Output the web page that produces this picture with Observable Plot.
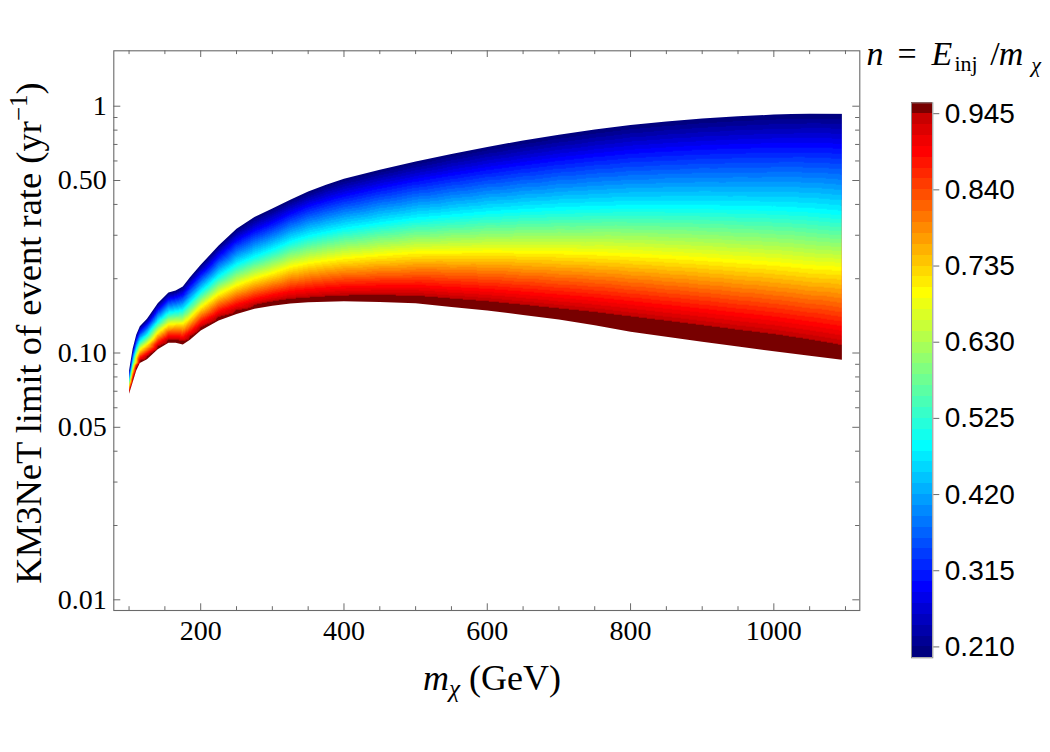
<!DOCTYPE html>
<html>
<head>
<meta charset="utf-8">
<script src="https://cdn.jsdelivr.net/npm/d3@7"></script>
<script src="https://cdn.jsdelivr.net/npm/@observablehq/plot@0.6"></script>
<style>
  body { margin: 0; background: #fff; }
  #wrap { position: relative; width: 1050px; height: 752px; overflow: hidden; background: #fff; }
  #wrap svg { position: absolute; top: 0; }
</style>
</head>
<body>
<div id="wrap"></div>
<script>
// ---------- data ----------
// dark matter mass m_chi (GeV), sample columns
const mass = [100, 105, 110, 115, 125, 140, 155, 165, 175, 185, 200, 225, 250, 275, 300, 325, 350, 375, 400, 450, 500, 550, 600, 650, 700, 750, 800, 850, 900, 950, 1000, 1050, 1095];
// event-rate limit (yr^-1) along several n = E_inj/m_chi levels
const levelN = [0.195, 0.2925, 0.4875, 0.6975, 0.8925, 0.945, 0.96];
const rateTop    = [0.0849, 0.1040, 0.1185, 0.1284, 0.1376, 0.1592, 0.1759, 0.1792, 0.1859, 0.2028, 0.2277, 0.2726, 0.3185, 0.356, 0.385, 0.418, 0.451, 0.481, 0.508, 0.553, 0.597, 0.641, 0.684, 0.726, 0.766, 0.805, 0.840, 0.867, 0.891, 0.910, 0.925, 0.934, 0.932];
const rateBlue   = [0.0825, 0.0998, 0.1134, 0.1228, 0.1310, 0.1505, 0.1655, 0.1681, 0.1731, 0.1877, 0.2099, 0.2484, 0.2860, 0.314, 0.3377, 0.3680, 0.395, 0.4160, 0.4360, 0.4700, 0.5020, 0.5310, 0.5600, 0.5860, 0.612, 0.634, 0.6550, 0.6690, 0.6810, 0.6890, 0.6950, 0.6970, 0.6894];
const rateCyan   = [0.0778, 0.0917, 0.1037, 0.1119, 0.1184, 0.1339, 0.1457, 0.1473, 0.1495, 0.1600, 0.1774, 0.2049, 0.2286, 0.246, 0.2624, 0.2823, 0.2977, 0.3083, 0.3189, 0.3351, 0.3499, 0.3597, 0.3704, 0.3775, 0.384, 0.388, 0.3907, 0.3906, 0.3901, 0.3871, 0.3846, 0.3785, 0.3688];
const rateYellow = [0.0739, 0.0852, 0.0960, 0.1033, 0.1085, 0.1211, 0.1307, 0.1315, 0.1317, 0.1394, 0.1535, 0.1737, 0.1885, 0.201, 0.2111, 0.2238, 0.2317, 0.2374, 0.2428, 0.2500, 0.2557, 0.2567, 0.2580, 0.2571, 0.2557, 0.2534, 0.2498, 0.2455, 0.2409, 0.2353, 0.2304, 0.2234, 0.220];
const rateRed    = [0.0703, 0.0792, 0.0888, 0.0954, 0.0994, 0.1096, 0.1171, 0.1173, 0.1160, 0.1214, 0.1328, 0.1471, 0.1570, 0.165, 0.1715, 0.1774, 0.1805, 0.1830, 0.1851, 0.1865, 0.1869, 0.1832, 0.1798, 0.1751, 0.1702, 0.1655, 0.1598, 0.1542, 0.1487, 0.1431, 0.1380, 0.1318, 0.126];
const rate945    = [0.0693, 0.0776, 0.0869, 0.0933, 0.0970, 0.1065, 0.1136, 0.1136, 0.1119, 0.1168, 0.1275, 0.1405, 0.1495, 0.1570, 0.1622, 0.1662, 0.1682, 0.1701, 0.1715, 0.1718, 0.1712, 0.1666, 0.1624, 0.1572, 0.1519, 0.1469, 0.141, 0.1354, 0.130, 0.1245, 0.1196, 0.1137, 0.108];
const rateBottom = [0.0683, 0.0762, 0.0849, 0.0912, 0.0944, 0.1036, 0.1100, 0.1100, 0.1083, 0.1131, 0.1234, 0.1354, 0.1440, 0.1512, 0.1555, 0.1587, 0.1605, 0.1614, 0.1622, 0.1610, 0.1590, 0.1536, 0.1486, 0.1426, 0.1367, 0.1296, 0.1219, 0.1163, 0.111, 0.1063, 0.1017, 0.0975, 0.0938];
const rateLevels = [rateTop, rateBlue, rateCyan, rateYellow, rateRed, rate945, rateBottom];

// axis ticks
const xMajor = [200, 400, 600, 800, 1000];
const xTickLabels = ["200", "400", "600", "800", "1000"];
const xMinor = [100, 150, 250, 300, 350, 450, 500, 550, 650, 700, 750, 850, 900, 950, 1050, 1100];
const yMajor = [0.01, 0.05, 0.1, 0.5, 1];
const yTickLabels = ["0.01", "0.05", "0.10", "0.50", "1"];
const yMinor = [0.02, 0.03, 0.04, 0.06, 0.07, 0.08, 0.09, 0.2, 0.3, 0.4, 0.6, 0.7, 0.8, 0.9];
// colour bar
const cbTicks = [0.21, 0.315, 0.42, 0.525, 0.63, 0.735, 0.84, 0.945];
const cbTickLabels = ["0.210", "0.315", "0.420", "0.525", "0.630", "0.735", "0.840", "0.945"];
const nMin = 0.195, nStep = 0.015, nBands = 51;
const colorAnchorK = [0, 6, 19, 26, 33, 39.5, 46, 47, 48, 49, 50];
const colorAnchorC = ["#00007f", "#0000ff", "#00ffff", "#80ff80", "#ffff00", "#ff8000", "#ff0000", "#f00000", "#dc0000", "#c80000", "#780000"];

// ---------- derived tables ----------
const thresholds = d3.range(nBands - 1).map(i => Math.round((nMin + nStep * (i + 1)) * 1000) / 1000);
const anchorScale = d3.scaleLinear().domain(colorAnchorK).range(colorAnchorC).interpolate(d3.interpolateRgb);
const bandColors = d3.range(nBands).map(k => d3.color(anchorScale(k)).formatHex());
const colorScale = {type: "threshold", domain: thresholds, range: bandColors};

const samples = [];
mass.forEach((m, i) => levelN.forEach((n, j) => samples.push({m, rate: rateLevels[j][i], n})));

const bands = d3.range(nBands).map(k => ({lo: nMin + nStep * k, hi: nMin + nStep * (k + 1), mid: nMin + nStep * (k + 0.5)}));

// ---------- main chart ----------
const W = 1050, H = 752;
const mL = 113.3, mR = W - 859.3, mT = 50.3, mB = H - 610;
const frameW = W - mL - mR, frameH = H - mT - mB;
const gray = "#6a6a6a";
const SERIF = "Liberation Serif";
const SANS = "Liberation Sans";

const chart = Plot.plot({
  width: W, height: H,
  marginLeft: mL, marginRight: mR, marginTop: mT, marginBottom: mB,
  style: {background: "transparent", overflow: "visible"},
  x: {domain: [78.7, 1120], axis: null},
  y: {type: "log", domain: [0.00905, 1.677], axis: null},
  color: colorScale,
  marks: [
    Plot.raster(samples, {x: "m", y: "rate", fill: "n", interpolate: "barycentric"}),
    Plot.frame({stroke: gray, strokeWidth: 1.1}),
    Plot.tickX(xMajor, {x: d => d, insetTop: frameH - 6.7, stroke: gray}),
    Plot.tickX(xMajor, {x: d => d, insetBottom: frameH - 6.7, stroke: gray}),
    Plot.tickX(xMinor, {x: d => d, insetTop: frameH - 3.8, stroke: gray}),
    Plot.tickX(xMinor, {x: d => d, insetBottom: frameH - 3.8, stroke: gray}),
    Plot.tickY(yMajor, {y: d => d, insetRight: frameW - 7, stroke: gray}),
    Plot.tickY(yMajor, {y: d => d, insetLeft: frameW - 7, stroke: gray}),
    Plot.tickY(yMinor, {y: d => d, insetRight: frameW - 4.2, stroke: gray}),
    Plot.tickY(yMinor, {y: d => d, insetLeft: frameW - 4.2, stroke: gray}),
    Plot.text(xMajor, {x: d => d, frameAnchor: "bottom", dy: 10, lineAnchor: "top",
      text: (d, i) => xTickLabels[i], fontFamily: SERIF, fontSize: 28, fill: "black", className: "ticklab"}),
    Plot.text(yMajor, {y: d => d, frameAnchor: "left", dx: -7, textAnchor: "end", lineAnchor: "middle",
      text: (d, i) => yTickLabels[i], fontFamily: SERIF, fontSize: 28, fill: "black", className: "ticklab"})
  ]
});

{
  const svg = d3.select(chart);
  svg.selectAll(".ticklab text").attr("style", `font-family: "${SERIF}"; font-size: 28px;`);

  // clip the interpolated raster to the band between the outermost curves
  const sx = chart.scale("x"), sy = chart.scale("y");
  const upper = mass.map((m, i) => [sx.apply(m), sy.apply(rateTop[i])]);
  const lower = mass.map((m, i) => [sx.apply(m), sy.apply(rateBottom[i])]).reverse();
  svg.insert("defs", ":first-child")
    .append("clipPath").attr("id", "bandclip")
    .append("path").attr("d", "M" + upper.concat(lower).map(p => p.join(",")).join("L") + "Z");
  svg.select('g[aria-label="raster"]').attr("clip-path", "url(#bandclip)");

  // axis titles
  const yl = svg.append("text")
    .attr("transform", "translate(41,333) rotate(-90)")
    .attr("text-anchor", "middle")
    .attr("style", `font-family: "${SERIF}"; font-size: 36.5px;`).attr("fill", "black");
  yl.append("tspan").text("KM3NeT limit of event rate (yr");
  yl.append("tspan").attr("dy", -14).attr("style", "font-size: 25px;").text("\u22121");
  yl.append("tspan").attr("dy", 14).text(")");

  const xl = svg.append("text")
    .attr("x", 492).attr("y", 690)
    .attr("text-anchor", "middle")
    .attr("style", `font-family: "${SERIF}"; font-size: 36px;`).attr("fill", "black");
  xl.append("tspan").attr("style", "font-style: italic;").text("m");
  xl.append("tspan").attr("style", "font-style: italic; font-size: 25px;").attr("dy", 7).text("\u03C7");
  xl.append("tspan").attr("dy", -7).text(" (GeV)");
}
chart.style.left = "0px";
document.getElementById("wrap").appendChild(chart);

// ---------- colour bar ----------
const cbLeft = 850;
const cbX2 = 932.3 - cbLeft;
const cb = Plot.plot({
  width: 200, height: H,
  marginLeft: 911 - cbLeft, marginRight: 200 - cbX2, marginTop: 102.3, marginBottom: H - 657.3,
  style: {background: "transparent", overflow: "visible"},
  x: {domain: [0, 1], axis: null},
  y: {domain: [nMin, nMin + nStep * nBands], axis: null},
  color: colorScale,
  marks: [
    Plot.rect(bands, {x1: 0, x2: 1, y1: "lo", y2: "hi", fill: "mid", shapeRendering: "crispEdges"}),
    Plot.frame({stroke: "#8a8a8a", strokeWidth: 1}),
    Plot.axisY(cbTicks, {anchor: "right", tickSize: 6, tickPadding: 6, stroke: gray, fill: "black",
      tickFormat: d => cbTickLabels[cbTicks.indexOf(d)], label: null, fontSize: 28, fontFamily: SANS})
  ]
});
{
  const svg = d3.select(cb);
  svg.selectAll('g[aria-label$="tick label"] text').attr("style", `font-family: "${SANS}"; font-size: 28px;`);
  const t = svg.append("text").attr("y", 65).attr("style", `font-family: "${SERIF}"; font-size: 34px;`).attr("fill", "black");
  t.append("tspan").attr("x", 875 - cbLeft).attr("style", "font-style: italic;").text("n");
  t.append("tspan").attr("x", 907 - cbLeft).text("=");
  t.append("tspan").attr("x", 942 - cbLeft).attr("style", "font-style: italic;").text("E");
  t.append("tspan").attr("x", 966 - cbLeft).attr("dy", 6).attr("style", "font-size: 22px;").text("inj");
  t.append("tspan").attr("x", 995 - cbLeft).attr("dy", -6).text("/");
  t.append("tspan").attr("x", 1011 - cbLeft).attr("style", "font-style: italic;").text("m");
  t.append("tspan").attr("x", 1036 - cbLeft).attr("dy", 7).attr("style", "font-style: italic; font-size: 22px;").text("\u03C7");
}
cb.style.left = cbLeft + "px";
document.getElementById("wrap").appendChild(cb);
</script>
</body>
</html>
